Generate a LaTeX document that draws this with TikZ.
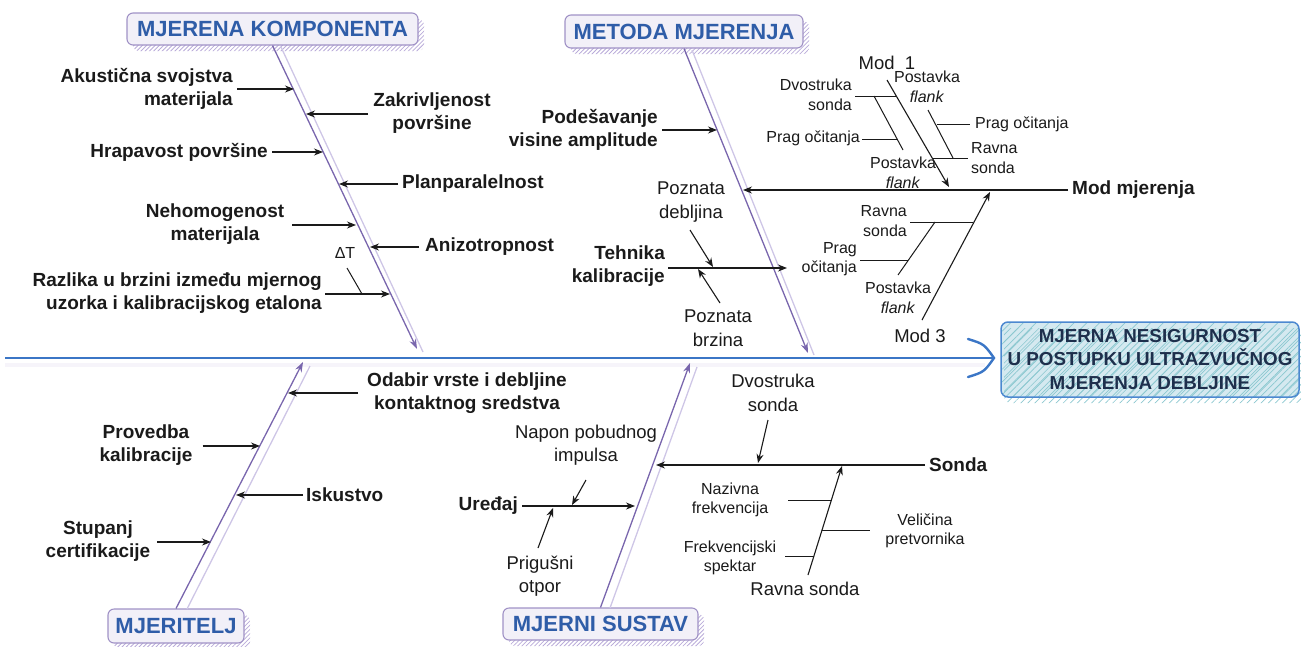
\documentclass[tikz,border=0pt]{standalone}
\usepackage{fontspec}
\setmainfont{Liberation Sans}
\usetikzlibrary{arrows.meta,patterns.meta,shadows}
\definecolor{ink}{HTML}{1A1A1A}
\definecolor{catblue}{HTML}{2F5DA8}
\definecolor{catfill}{HTML}{F2F0F8}
\definecolor{catdraw}{HTML}{A092C6}
\definecolor{cathatch}{HTML}{B9ABD9}
\definecolor{bonedark}{HTML}{7966AD}
\definecolor{bonelight}{HTML}{CEC6E6}
\definecolor{spinec}{HTML}{3B76C6}
\definecolor{resfill}{HTML}{D5E9F0}
\definecolor{reshatch}{HTML}{8CC8D0}
\definecolor{resdraw}{HTML}{4C88D0}
\definecolor{restext}{HTML}{1E2F4C}
\tikzset{
  bl/.style={font=\bfseries\fontsize{19}{23}\selectfont, inner sep=0pt, text=ink},
  nm/.style={font=\fontsize{18.5}{23.5}\selectfont, inner sep=0pt, text=ink},
  sm/.style={font=\fontsize{16}{19.5}\selectfont, inner sep=0pt, text=ink},
  arr/.style={draw=ink, line width=1.1pt, -{Stealth[length=9pt,width=7pt]}},
  ln/.style={draw=ink, line width=1pt},
  bonedk/.style={draw=bonedark, line width=1.3pt, -{Stealth[length=10pt,width=7pt]}},
  bonelt/.style={draw=bonelight, line width=1.3pt},
  catbox/.style={draw=catdraw, line width=1.1pt, fill=catfill, rounded corners=6pt,
    font=\bfseries\fontsize{22}{22}\selectfont, text=catblue, inner sep=0pt,
    general shadow={pattern={Lines[angle=45,distance=3pt,line width=0.8pt]}, pattern color=cathatch,
      shadow xshift=6pt, shadow yshift=-6pt}},
  resbox/.style={draw=resdraw, line width=1.5pt, rounded corners=7pt,
    preaction={fill=resfill},
    pattern={Lines[angle=45,distance=9pt,line width=0.7pt]}, pattern color=reshatch,
    general shadow={pattern={Lines[angle=45,distance=5pt,line width=0.7pt]}, pattern color=reshatch,
      shadow xshift=3pt, shadow yshift=-6pt},
    font=\bfseries\fontsize{18.8}{23.5}\selectfont, text=restext, align=center, inner sep=0pt},
  spineln/.style={draw=spinec, line width=2.8pt}
}
\begin{document}
\begin{tikzpicture}[x=1pt,y=-1pt]
\useasboundingbox (0,0) rectangle (1301,646);

% ---------- spine ----------
\coordinate (sp0) at (5,365);
\coordinate (sp1) at (985,365);
\draw[draw=catfill!70!white, line width=4pt] (sp0) -- (sp1);
\coordinate (tail) at (5,358);
\coordinate (head) at (994,358);
\draw[spineln] (tail) -- (head);
\coordinate (hu) at (968,339);
\coordinate (hd) at (968,377);
\draw[spinec, line width=2.4pt, line cap=round] (hu) .. controls (984,344) .. (head) .. controls (984,372) .. (hd);

% ---------- result box ----------
\node[resbox, minimum width=298pt, minimum height=75pt] (res) at (1150,359.5)
  {MJERNA NESIGURNOST\\U POSTUPKU ULTRAZVUČNOG\\MJERENJA DEBLJINE};

% ---------- category boxes ----------
\node[catbox, minimum width=291pt, minimum height=32pt] (mk) at (272.5,29) {MJERENA KOMPONENTA};
\node[catbox, minimum width=238pt, minimum height=33pt] (mm) at (684,31.5) {METODA MJERENJA};
\node[catbox, minimum width=136pt, minimum height=34pt] (mjt) at (176,626) {MJERITELJ};
\node[catbox, minimum width=195pt, minimum height=32pt] (ms) at (600.5,624) {MJERNI SUSTAV};

% ---------- bones ----------
\coordinate (mkL1) at (281,47);  \coordinate (mkL2) at (423,352);
\coordinate (mkE) at (417,349);
\draw[bonelt] (mkL1) -- (mkL2);
\draw[bonedk] (mk.south) -- (mkE);

\coordinate (mmL1) at (692,50);  \coordinate (mmL2) at (814,355);
\coordinate (mmE) at (808,353);
\draw[bonelt] (mmL1) -- (mmL2);
\draw[bonedk] (mm.south) -- (mmE);

\coordinate (mjL1) at (187,609); \coordinate (mjL2) at (310,366);
\coordinate (mjE) at (303,362);
\draw[bonelt] (mjL1) -- (mjL2);
\draw[bonedk] (mjt.north) -- (mjE);

\coordinate (msL1) at (610,608); \coordinate (msL2) at (697,367);
\coordinate (msE) at (690,363);
\draw[bonelt] (msL1) -- (msL2);
\draw[bonedk] (ms.north) -- (msE);

% ---------- MJERENA KOMPONENTA ----------
\node[bl,align=right,anchor=east] (akus) at (233,89) {Akustična svojstva\\materijala};
\node[bl,align=center] (zakr) at (432,113) {Zakrivljenost\\površine};
\node[bl,anchor=east] (hrap) at (268,152) {Hrapavost površine};
\node[bl,anchor=west] (plan) at (402,184) {Planparalelnost};
\node[bl,align=center] (neho) at (215,224) {Nehomogenost\\materijala};
\node[bl,anchor=west] (aniz) at (425,247) {Anizotropnost};
\node[sm] (dT) at (345,253) {ΔT};
\node[bl,align=right,anchor=east] (razl) at (322,293) {Razlika u brzini između mjernog\\uzorka i kalibracijskog etalona};

\coordinate (tA) at (294,89);
\coordinate (tZ) at (306,114);
\coordinate (tH) at (323,152);
\coordinate (tP) at (339,184);
\coordinate (tN) at (356,225);
\coordinate (tAn) at (370,247);
\coordinate (tR) at (390,294);
\draw[arr] ([xshift=4pt]akus.east) -- (tA);
\draw[arr] ([xshift=-5pt]zakr.west |- tZ) -- (tZ);
\draw[arr] ([xshift=4pt]hrap.east) -- (tH);
\draw[arr] ([xshift=-4pt]plan.west) -- (tP);
\draw[arr] ([xshift=8pt]neho.east |- tN) -- (tN);
\draw[arr] ([xshift=-6pt]aniz.west) -- (tAn);
\draw[arr] ([xshift=3pt]razl.east |- tR) -- (tR);
\coordinate (dt1) at (347,268); \coordinate (dt2) at (362,294);
\draw[ln] (dt1) -- (dt2);

% ---------- METODA MJERENJA ----------
\node[bl,align=right,anchor=east] (pode) at (658,130) {Podešavanje\\visine amplitude};
\coordinate (tPo) at (717,130);
\draw[arr] ([xshift=4pt]pode.east) -- (tPo);

\node[bl,anchor=west] (modm) at (1072,190) {Mod mjerenja};
\coordinate (tMo) at (743,190);
\draw[arr] ([xshift=-4pt]modm.west) -- (tMo);

% Mod 1
\node[nm] (mod1) at (887,63) {Mod~~1};
\node[sm,align=center] (pf1) at (927,87) {Postavka\\\textit{flank}};
\node[sm,align=right,anchor=east] (dvo1) at (852,95) {Dvostruka\\sonda};
\node[sm,anchor=east] (pr1) at (860,138) {Prag očitanja};
\node[sm,anchor=west] (pr2) at (975,124) {Prag očitanja};
\node[sm,align=left,anchor=west] (rs1) at (971,158) {Ravna\\sonda};
\node[sm,align=center] (pf2) at (903,173) {Postavka\\\textit{flank}};
\coordinate (m1s) at (887,80); \coordinate (m1e) at (949,187);
\draw[arr] (m1s) -- (m1e);
\coordinate (d1a) at (855,96); \coordinate (d1b) at (897,96);
\draw[ln] (d1a) -- (d1b);
\coordinate (d1c) at (874,96); \coordinate (d1d) at (903,150);
\draw[ln] (d1c) -- (d1d);
\coordinate (p1a) at (862,139); \coordinate (p1b) at (897,139);
\draw[ln] (p1a) -- (p1b);
\coordinate (f1a) at (928,110); \coordinate (f1b) at (953,158);
\draw[ln] (f1a) -- (f1b);
\coordinate (p2a) at (937,124); \coordinate (p2b) at (970,124);
\draw[ln] (p2a) -- (p2b);
\coordinate (r1a) at (933,158); \coordinate (r1b) at (968,158);
\draw[ln] (r1a) -- (r1b);

% Mod 3
\node[sm,align=right,anchor=east] (rs3) at (907,221) {Ravna\\sonda};
\node[sm,align=right,anchor=east] (pr3) at (857,259) {Prag\\očitanja};
\node[sm,align=center] (pf3) at (898,298) {Postavka\\\textit{flank}};
\node[nm] (mod3) at (920,336) {Mod 3};
\coordinate (m3s) at (922,320); \coordinate (m3e) at (990,192);
\draw[arr] (m3s) -- (m3e);
\coordinate (r3a) at (910,222); \coordinate (r3b) at (973,222);
\draw[ln] (r3a) -- (r3b);
\coordinate (f3a) at (935,222); \coordinate (f3b) at (898,275);
\draw[ln] (f3a) -- (f3b);
\coordinate (p3a) at (860,260); \coordinate (p3b) at (908,260);
\draw[ln] (p3a) -- (p3b);

% Tehnika kalibracije
\node[bl,align=right,anchor=east] (tehn) at (665,266) {Tehnika\\kalibracije};
\node[nm,align=center] (pdeb) at (691,202) {Poznata\\debljina};
\node[nm,align=center] (pbrz) at (718,328) {Poznata\\brzina};
\coordinate (tk1) at (668,268); \coordinate (tk2) at (787,268);
\draw[arr] (tk1) -- (tk2);
\coordinate (pd1) at (690,230); \coordinate (pd2) at (713,267);
\draw[arr] (pd1) -- (pd2);
\coordinate (pb1) at (720,303); \coordinate (pb2) at (698,269);
\draw[arr] (pb1) -- (pb2);

% ---------- MJERITELJ ----------
\node[bl,align=center] (odab) at (467,393) {Odabir vrste i debljine\\kontaktnog sredstva};
\node[bl,align=center] (prov) at (146,445) {Provedba\\kalibracije};
\node[bl,anchor=west] (isku) at (306,495) {Iskustvo};
\node[bl,align=center] (stup) at (98,541) {Stupanj\\certifikacije};
\coordinate (tOd) at (288,393);
\coordinate (tPr) at (260,446);
\coordinate (tIs) at (236,495);
\coordinate (tSt) at (211,542);
\draw[arr] ([xshift=-9pt]odab.west |- tOd) -- (tOd);
\draw[arr] ([xshift=10pt]prov.east |- tPr) -- (tPr);
\draw[arr] ([xshift=-3pt]isku.west) -- (tIs);
\draw[arr] ([xshift=7pt]stup.east |- tSt) -- (tSt);

% ---------- MJERNI SUSTAV ----------
\node[bl,anchor=west] (sond) at (929,465) {Sonda};
\coordinate (tSo) at (656,465);
\draw[arr] ([xshift=-4pt]sond.west) -- (tSo);
\node[nm,align=center] (dvo2) at (773,393) {Dvostruka\\sonda};
\coordinate (dv1) at (768,420); \coordinate (dv2) at (758,463);
\draw[arr] (dv1) -- (dv2);
\node[nm] (rs2) at (805,589) {Ravna sonda};
\coordinate (rv1) at (808,575); \coordinate (rv2) at (842,466);
\draw[arr] (rv1) -- (rv2);
\node[sm,align=center] (nazv) at (730,500) {Nazivna\\frekvencija};
\coordinate (nz1) at (788,500); \coordinate (nz2) at (831,500);
\draw[ln] (nz1) -- (nz2);
\node[sm,align=center] (velc) at (925,531) {Veličina\\pretvornika};
\coordinate (vl1) at (822,530); \coordinate (vl2) at (870,530);
\draw[ln] (vl1) -- (vl2);
\node[sm,align=center] (frsp) at (730,558) {Frekvencijski\\spektar};
\coordinate (fs1) at (785,556); \coordinate (fs2) at (814,556);
\draw[ln] (fs1) -- (fs2);

\node[bl,anchor=east] (ured) at (518,506) {Uređaj};
\coordinate (tUr) at (635,506);
\draw[arr] ([xshift=4pt]ured.east) -- (tUr);
\node[nm,align=center] (napn) at (586,445) {Napon pobudnog\\impulsa};
\coordinate (np1) at (586,480); \coordinate (np2) at (572,505);
\draw[arr] (np1) -- (np2);
\node[nm,align=center] (prig) at (540,576) {Prigušni\\otpor};
\coordinate (pg1) at (538,548); \coordinate (pg2) at (553,508);
\draw[arr] (pg1) -- (pg2);
\end{tikzpicture}
\end{document}
